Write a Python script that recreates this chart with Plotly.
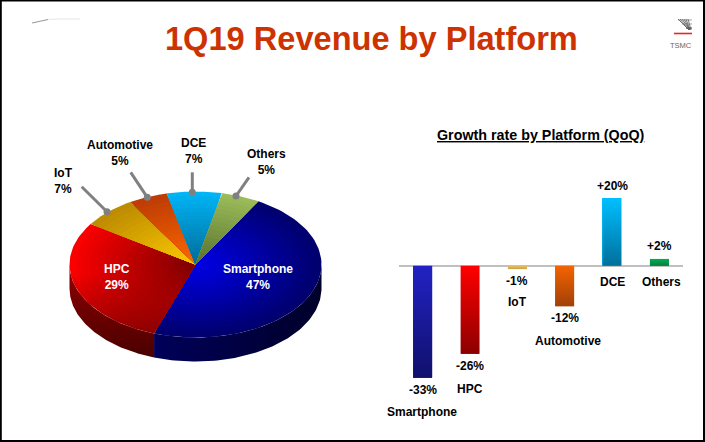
import numpy as np
import plotly.graph_objects as go

# ---------- data ----------
platforms = ["Smartphone", "HPC", "IoT", "Automotive", "DCE", "Others"]
revenue_share = [47, 29, 7, 5, 7, 5]
growth_qoq = [-33, -26, -1, -12, 20, 2]
growth_labels = ["-33%", "-26%", "-1%", "-12%", "+20%", "+2%"]

# ---------- styles ----------
W, H = 705, 442
CX, CY, RX, RY, DEPTH = 195.5, 264.5, 126, 73, 24
START_DEG = 30
# colour at the pie centre, colour at the rim
wedge_colors = {
    "Smartphone": ((0, 0, 235), (0, 0, 110)),
    "HPC": ((120, 0, 0), (250, 0, 0)),
    "IoT": ((255, 205, 0), (190, 140, 0)),
    "Automotive": ((255, 105, 0), (190, 60, 5)),
    "DCE": ((0, 105, 150), (0, 180, 245)),
    "Others": ((85, 110, 45), (155, 187, 89)),
}
bar_colors = {
    "Smartphone": ("#2222c4", "#10106c"),
    "HPC": ("#ff0000", "#8c0000"),
    "IoT": ("#e8c468", "#c8a040"),
    "Automotive": ("#f56400", "#a04008"),
    "DCE": ("#00bfff", "#00709c"),
    "Others": ("#00b050", "#008040"),
}
FONT = "Liberation Sans"


def rgb(c):
    return f"rgb({int(c[0])},{int(c[1])},{int(c[2])})"


def arc(a0, a1, scale=1.0, drop=0.0, n=80):
    t = np.radians(np.linspace(a0, a1, n))
    return CX + scale * RX * np.sin(t), CY - scale * RY * np.cos(t) + drop


fig = go.Figure()


def poly(xs, ys, **kw):
    fig.add_trace(go.Scatter(x=list(xs), y=list(ys), mode="lines", fill="toself",
                             line=dict(width=0), hoverinfo="skip", showlegend=False,
                             xaxis="x", yaxis="y", **kw))


def stroke(xs, ys, color, width):
    fig.add_trace(go.Scatter(x=xs, y=ys, mode="lines", line=dict(color=color, width=width),
                             hoverinfo="skip", showlegend=False, xaxis="x", yaxis="y"))


# wedge angles from the shares
edges = START_DEG + np.concatenate([[0], np.cumsum(revenue_share)]) * 3.6

# side wall (front half of the ellipse only)
wall_gradients = {
    "Smartphone": dict(type="horizontal", colorscale=[[0, "#00005a"], [1, "#00002a"]]),
    "HPC": dict(type="vertical", colorscale=[[0, "#4a0000"], [1, "#920000"]]),
}
for i, name in enumerate(platforms):
    a0, a1 = max(edges[i], 90), min(edges[i + 1], 270)
    if a1 <= a0:
        continue
    x1, y1 = arc(a0, a1)
    x2, y2 = arc(a1, a0, drop=DEPTH)
    poly(np.r_[x1, x2], np.r_[y1, y2], fillcolor="#000040", fillgradient=wall_gradients[name])

# top face: nested wedges give the radial shading
RINGS = 18
for i, name in enumerate(platforms):
    inner, outer = wedge_colors[name]
    for k in range(RINGS):
        f = 1 - k / RINGS
        c = np.array(inner) + (np.array(outer) - np.array(inner)) * f
        x, y = arc(edges[i], edges[i + 1], scale=f)
        poly(np.r_[CX, x], np.r_[CY, y], fillcolor=rgb(c))

# the lower part of the HPC wedge sits in shadow
hx, hy = arc(edges[1], edges[2])
poly(np.r_[CX, hx], np.r_[CY, hy], fillcolor="rgba(90,0,0,0.2)",
     fillgradient=dict(type="vertical", colorscale=[[0, "rgba(100,0,0,0.75)"], [0.55, "rgba(100,0,0,0)"],
                                                    [1, "rgba(100,0,0,0)"]]))

# leader lines
leaders = {
    "IoT": ((81.7, 186.7), (107, 211.7)),
    "Automotive": ((130.7, 172.3), (147.3, 197.3)),
    "DCE": ((192.3, 172.3), (192.3, 192.3)),
    "Others": ((249, 177.3), (236, 196)),
}
for a, b in leaders.values():
    stroke([a[0], b[0]], [a[1], b[1]], "#808080", 3)
    fig.add_trace(go.Scatter(x=[b[0]], y=[b[1]], mode="markers",
                             marker=dict(color="#808080", size=7), hoverinfo="skip",
                             showlegend=False, xaxis="x", yaxis="y"))

# slide decoration: swoosh and logo
stroke([32, 40, 48], [23, 21, 19.5], "#9a9a9a", 1.2)
stroke([48, 60, 80], [19.5, 19, 19], "#eeeeee", 1.5)
stroke([674, 692], [33.5, 33.5], "#ee2222", 1.6)
for x0, x1 in [(678, 690), (680, 690), (682, 691), (684, 691), (686, 691), (688, 692)]:
    stroke([x0, x1 - 1], [19, 30], "#555555", 0.8)
stroke([678, 692], [20, 20], "#777777", 0.7)
stroke([682, 692], [24, 24], "#777777", 0.7)
stroke([686, 692], [28, 28], "#555555", 1.2)

# growth bars
BAR_W = 0.4
fig.add_trace(go.Bar(x=list(range(6)), y=growth_qoq, width=BAR_W, xaxis="x2", yaxis="y2",
                     marker=dict(color=[bar_colors[p][0] for p in platforms], line_width=0),
                     hoverinfo="skip", showlegend=False))
for i, (name, v) in enumerate(zip(platforms, growth_qoq)):
    first, second = bar_colors[name]
    fig.add_trace(go.Scatter(
        x=[i - BAR_W / 2, i + BAR_W / 2, i + BAR_W / 2, i - BAR_W / 2],
        y=[0, 0, v, v], mode="lines", fill="toself", line=dict(width=0),
        fillcolor=first, fillgradient=dict(type="vertical", colorscale=[[0, second], [1, first]]),
        hoverinfo="skip", showlegend=False, xaxis="x2", yaxis="y2"))


# ---------- text ----------
def note(text, x, y, color="#000", size=12, xref="x", yref="y", yshift=0, xshift=0):
    fig.add_annotation(text=text, x=x, y=y, xref=xref, yref=yref, showarrow=False,
                       xanchor="center", yanchor="middle", yshift=yshift, xshift=xshift,
                       font=dict(family=FONT, size=size, color=color))


share = dict(zip(platforms, revenue_share))
pie_labels = {
    "Smartphone": (258, 277, "#fff"), "HPC": (117, 277, "#fff"),
    "IoT": (63, 181, "#000"), "Automotive": (119.5, 153, "#000"),
    "DCE": (193, 151, "#000"), "Others": (266, 162, "#000"),
}
for name, (x, y, col) in pie_labels.items():
    note(f"<b>{name}<br>{share[name]}%</b>", x, y, col)

# value label / category label offsets below (or above) each bar tip, px
value_shift = [-12, -12, -11.5, -12, 11.5, 13]
name_pos = [(-1, -33, -34), (0, -26, -35.5), (0, -1, -32.5), (3.5, -12, -35), (0.5, 0, -16.5), (2, 0, -16.5)]
for i, name in enumerate(platforms):
    note(f"<b>{growth_labels[i]}</b>", i, growth_qoq[i], xref="x2", yref="y2", yshift=value_shift[i])
    xs, yv, ys = name_pos[i]
    note(f"<b>{name}</b>", i, yv, xref="x2", yref="y2", yshift=ys, xshift=xs)

note("<b><u>Growth rate by Platform (QoQ)</u></b>", 540.5, 135, size=14.3)
note("<b>1Q19 Revenue by Platform</b>", 371, 38, color="#cc3300", size=32.6)
note("TSMC", 681, 45.7, color="#666666", size=7.5)

layout_shapes = [
    dict(type="rect", xref="x", yref="y", x0=0.8, y0=0.6, x1=704, y1=441,
         line=dict(color="#000", width=2), fillcolor="rgba(0,0,0,0)"),
]
fig.update_layout(
    width=W, height=H, autosize=False, margin=dict(l=0, r=0, t=0, b=0),
    paper_bgcolor="#fff", plot_bgcolor="rgba(0,0,0,0)", bargap=0, barmode="overlay",
    font=dict(family=FONT), shapes=layout_shapes,
    xaxis=dict(domain=[0, 1], range=[0, W], visible=False, fixedrange=True),
    yaxis=dict(domain=[0, 1], range=[H, 0], visible=False, fixedrange=True),
    xaxis2=dict(domain=[399.1 / W, 683 / W], range=[-0.5, 5.5], anchor="y2", visible=False, fixedrange=True),
    yaxis2=dict(domain=[0, 1], range=[-(H - 265.7) / 3.39, 265.7 / 3.39], anchor="x2",
                showgrid=False, showticklabels=False, ticks="", showline=False,
                zeroline=True, zerolinecolor="#c0c0c0", zerolinewidth=1.5, fixedrange=True),
)
fig.write_html("out.html", config={"displayModeBar": False},
               post_script="document.body.style.margin='0';document.body.style.overflow='hidden';")
